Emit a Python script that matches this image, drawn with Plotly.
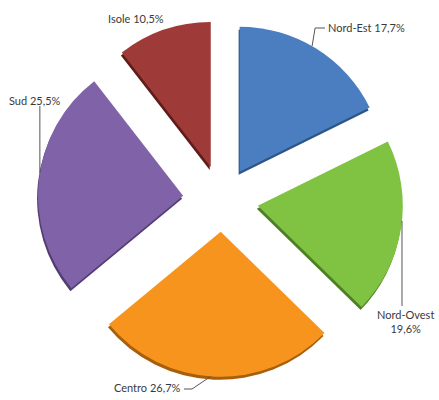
import math
import plotly.graph_objects as go

# Distribution by macro-area (percent)
areas = ["Nord-Est", "Nord-Ovest", "Centro", "Sud", "Isole"]
shares = [17.7, 19.6, 26.7, 25.5, 10.5]
label_text = ["Nord-Est 17,7%", "Nord-Ovest<br>19,6%", "Centro 26,7%", "Sud 25,5%", "Isole 10,5%"]
explode = [0.23, 0.25, 0.22, 0.27, 0.24]

face_colors = ["#4A7EC0", "#80C342", "#F7941E", "#7F62A8", "#9E3A37"]
edge_colors = ["#2E5587", "#4F7F24", "#A85F0B", "#533E73", "#5E1C1A"]

W, H = 439, 400
CX, CY = 222.0, 200.0          # pie centre in pixels
RADIUS = 145.0                 # pie radius in pixels
box = 2 * RADIUS * (1 + max(explode))


def domain(dx=0.0, dy=0.0):
    x0 = (CX - box / 2 + dx) / W
    x1 = (CX + box / 2 + dx) / W
    y0 = 1 - (CY + box / 2 + dy) / H
    y1 = 1 - (CY - box / 2 + dy) / H
    return dict(x=[x0, x1], y=[y0, y1])


fig = go.Figure()

# darker copy underneath gives the slices a visible thickness
fig.add_trace(go.Pie(
    labels=areas, values=shares, sort=False, direction="clockwise", rotation=0,
    pull=explode, marker=dict(colors=edge_colors, line=dict(width=0)),
    textinfo="none", hoverinfo="skip", showlegend=False, domain=domain(-1, 3),
))
fig.add_trace(go.Pie(
    labels=areas, values=shares, sort=False, direction="clockwise", rotation=0,
    pull=explode, marker=dict(colors=face_colors, line=dict(width=0)),
    textinfo="none", showlegend=False, domain=domain(),
))

# slice angles from the values
total = sum(shares)
starts, acc = [], 0.0
for v in shares:
    starts.append(acc / total * 360)
    acc += v
mids = [s + v / total * 180 for s, v in zip(starts, shares)]


def arc_point(i, theta):
    m = math.radians(mids[i])
    t = math.radians(theta)
    x = CX + explode[i] * RADIUS * math.sin(m) + RADIUS * math.sin(t)
    y = CY - explode[i] * RADIUS * math.cos(m) - RADIUS * math.cos(t)
    return x, y


def px(x, y):
    return x / W, 1 - y / H


font = dict(family="Lato, Open Sans, sans-serif", size=11, color="#3a3a3a")
line_style = dict(color="#555555", width=1)

# leader lines: from the slice edge to the label
p0 = arc_point(0, 30)
p1 = arc_point(1, 96)
p2 = arc_point(2, 184)
p3 = arc_point(3, 279)
leaders = [
    [p0, (p0[0] + 3, 28), (325, 28)],
    [p1, (p1[0], 306)],
    [p2, (192, 389), (184, 389)],
    [p3, (p3[0], 106)],
]
for pts in leaders:
    path = "M " + " L ".join(f"{px(x, y)[0]:.4f},{px(x, y)[1]:.4f}" for x, y in pts)
    fig.add_shape(type="path", path=path, xref="paper", yref="paper", line=line_style)

label_pos = [
    (326, 27, "left", "middle", "left"),
    (p1[0] + 3, 321, "center", "middle", "center"),
    (183, 387, "right", "middle", "left"),
    (7, 101, "left", "middle", "left"),
    (106, 19, "left", "middle", "left"),
]
for txt, (x, y, xa, ya, al) in zip(label_text, label_pos):
    ax, ay = px(x, y)
    fig.add_annotation(x=ax, y=ay, xref="paper", yref="paper", text=txt, showarrow=False,
                       xanchor=xa, yanchor=ya, align=al, font=font)

fig.update_layout(
    width=W, height=H, margin=dict(l=0, r=0, t=0, b=0),
    paper_bgcolor="white", plot_bgcolor="white",
)

fig.write_html("out.html")
